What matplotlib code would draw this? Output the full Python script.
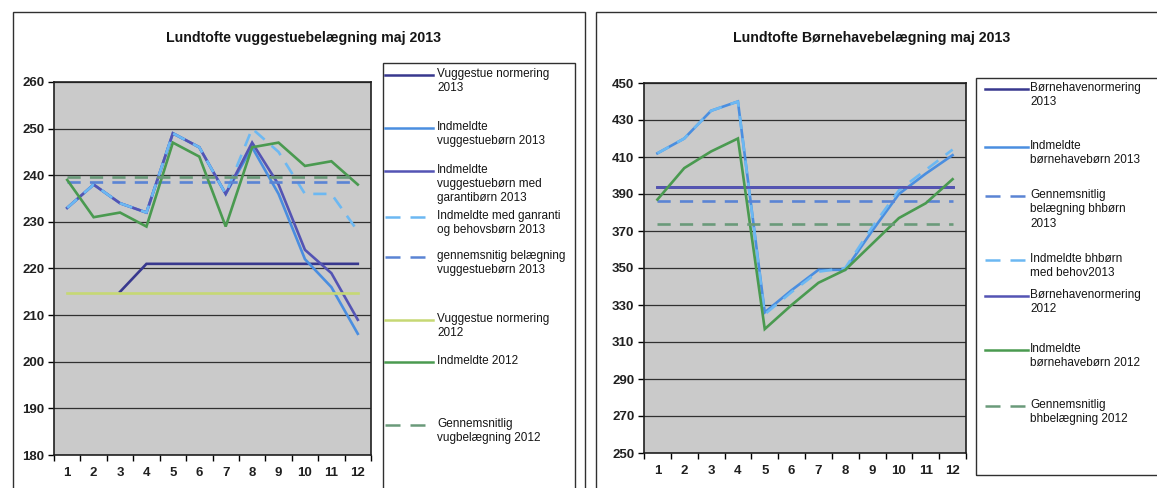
import numpy as np
import matplotlib.pyplot as plt
from matplotlib.lines import Line2D
from matplotlib.patches import Rectangle

plt.rcParams['font.family'] = ['Liberation Sans', 'DejaVu Sans']

W, H = 1157, 488

months = list(range(1, 13))
nan = np.nan

# --- left chart: vuggestue ---
vug_title = "Lundtofte vuggestuebelægning maj 2013"
vug_norm_2013 = [nan, nan, 215, 221, 221, 221, 221, 221, 221, 221, 221, 221]
vug_indm_2013 = [233, 238, 234, 232, 249, 246, 236, 246, 236, 222, 216, 206]
vug_garanti_2013 = [233, 238, 234, 232, 249, 246, 236, 247, 238, 224, 219, 209]
vug_behov_2013 = [233, 238, 234, 232, 249, 246, 236, 250, 245, 236, 236, 228]
vug_snit_2013 = [238.6] * 12
vug_norm_2012 = [214.8] * 12
vug_indm_2012 = [239, 231, 232, 229, 247, 244, 229, 246, 247, 242, 243, 238]
vug_snit_2012 = [239.6] * 12

vug_labels = ["Vuggestue normering\n2013",
              "Indmeldte\nvuggestuebørn 2013",
              "Indmeldte\nvuggestuebørn med\ngarantibørn 2013",
              "Indmeldte med ganranti\nog behovsbørn 2013",
              "gennemsnitig belægning\nvuggestuebørn 2013",
              "Vuggestue normering\n2012",
              "Indmeldte 2012",
              "Gennemsnitlig\nvugbelægning 2012"]

# --- right chart: børnehave ---
bh_title = "Lundtofte Børnehavebelægning maj 2013"
bh_norm_2013 = [394] * 12
bh_indm_2013 = [412, 420, 435, 440, 326, 338, 349, 349, 370, 390, 401, 411]
bh_snit_2013 = [386] * 12
bh_behov_2013 = [412, 420, 435, 440, 325, 337, 348, 350, 372, 392, 403, 414]
bh_norm_2012 = [394] * 12
bh_indm_2012 = [387, 404, 413, 420, 317, 330, 342, 349, 363, 377, 385, 398]
bh_snit_2012 = [374] * 12

bh_labels = ["Børnehavenormering\n2013",
             "Indmeldte\nbørnehavebørn 2013",
             "Gennemsnitlig\nbelægning bhbørn\n2013",
             "Indmeldte bhbørn\nmed behov2013",
             "Børnehavenormering\n2012",
             "Indmeldte\nbørnehavebørn 2012",
             "Gennemsnitlig\nbhbelægning 2012"]

NAVY = "#38388e"
BLUE = "#4a8ee0"
PURPLE = "#5454b4"
LBLUE = "#6cb8f2"
DBLUE = "#5a84d4"
YGREEN = "#c6d874"
GREEN = "#4a9a50"
GGREEN = "#6a9a7a"
DASH = (5, 3.5)

vug_series = [(vug_norm_2013, NAVY, '-'), (vug_indm_2013, BLUE, '-'),
              (vug_garanti_2013, PURPLE, '-'), (vug_behov_2013, LBLUE, '--'),
              (vug_snit_2013, DBLUE, '--'), (vug_norm_2012, YGREEN, '-'),
              (vug_indm_2012, GREEN, '-'), (vug_snit_2012, GGREEN, '--')]
bh_series = [(bh_norm_2013, NAVY, '-'), (bh_indm_2013, BLUE, '-'),
             (bh_snit_2013, DBLUE, '--'), (bh_behov_2013, LBLUE, '--'),
             (bh_norm_2012, PURPLE, '-'), (bh_indm_2012, GREEN, '-'),
             (bh_snit_2012, GGREEN, '--')]


def fx(px):
    return px / W


def fy(py):
    return 1 - py / H


def box_axes(fig, x0, y0, x1, y1):
    return fig.add_axes([fx(x0), fy(y1), fx(x1 - x0), (y1 - y0) / H])


def draw_chart(ax, series, ylim, step):
    ax.set_facecolor("#cacaca")
    for vals, col, ls in series:
        kw = dict(color=col, lw=1.9, solid_joinstyle='miter')
        if ls == '--':
            kw['dashes'] = DASH
        ax.plot(months, vals, **kw)
    ax.set_xlim(0.5, 12.5)
    ax.set_ylim(*ylim)
    ax.set_yticks(np.arange(ylim[0], ylim[1] + 1, step))
    ax.yaxis.grid(True, color="#303030", lw=0.9)
    ax.set_axisbelow(True)
    ax.set_xticks(months)
    ax.set_xticks(np.arange(0.5, 13, 1), minor=True)
    ax.tick_params(axis='x', which='major', length=0, pad=9)
    ax.tick_params(axis='x', which='minor', length=4, width=1)
    ax.tick_params(axis='y', length=4, width=1, pad=3)
    for lab in ax.get_xticklabels() + ax.get_yticklabels():
        lab.set_fontsize(9.5)
        lab.set_fontweight('bold')
        lab.set_color("#202020")
    for s in ax.spines.values():
        s.set_color("#202020")
        s.set_linewidth(1.2)


def draw_legend(fig, x0, y0, x1, y1, entries, hx0, hx1, tx, ys):
    fig.add_artist(Rectangle((fx(x0), fy(y1)), fx(x1 - x0), (y1 - y0) / H,
                             transform=fig.transFigure, fill=False,
                             edgecolor="#303030", lw=1.0))
    for (lab, (vals, col, ls)), y in zip(entries, ys):
        kw = dict(color=col, lw=1.8, transform=fig.transFigure)
        if ls == '--':
            kw['dashes'] = (6, 4)
        fig.add_artist(Line2D([fx(hx0), fx(hx1)], [fy(y), fy(y)], **kw))
        fig.text(fx(tx), fy(y - 7), lab, fontsize=8.5, va='top', ha='left',
                 color="#151515", linespacing=1.25)


fig = plt.figure(figsize=(W / 100, H / 100), dpi=100)
fig.patch.set_facecolor("white")

# outer frames
fig.add_artist(Rectangle((fx(13), fy(495)), fx(585 - 13), (495 - 12) / H,
                         transform=fig.transFigure, fill=False,
                         edgecolor="#303030", lw=1.0))
fig.add_artist(Rectangle((fx(596), fy(495)), fx(1170 - 596), (495 - 12) / H,
                         transform=fig.transFigure, fill=False,
                         edgecolor="#303030", lw=1.0))

ax1 = box_axes(fig, 54, 82, 371, 455)
draw_chart(ax1, vug_series, (180, 260), 10)
fig.text(fx(304), fy(38), vug_title, ha='center', va='center',
         fontsize=10.2, fontweight='bold', color="#151515")

ax2 = box_axes(fig, 644, 83, 966, 453)
draw_chart(ax2, bh_series, (250, 450), 20)
fig.text(fx(872), fy(38), bh_title, ha='center', va='center',
         fontsize=10.2, fontweight='bold', color="#151515")

draw_legend(fig, 383, 63, 575, 495, list(zip(vug_labels, vug_series)),
            385, 433, 437, [75, 128, 171, 217, 257, 320, 362, 425])
draw_legend(fig, 976, 78, 1175, 475, list(zip(bh_labels, bh_series)),
            985, 1028, 1030, [89, 147, 196, 260, 296, 350, 406])

fig.savefig("out.png", dpi=100)
